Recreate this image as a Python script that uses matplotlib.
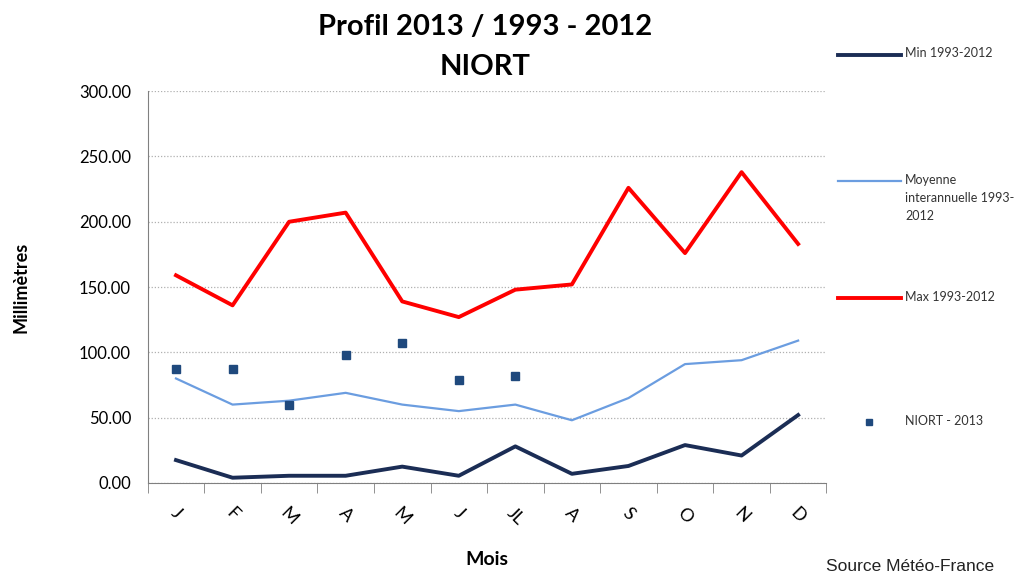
import matplotlib.pyplot as plt
import numpy as np
from matplotlib.lines import Line2D

months = ['J', 'F', 'M', 'A', 'M', 'J', 'JL', 'A', 'S', 'O', 'N', 'D']
min_vals = [17.5, 4, 5.5, 5.5, 12.5, 5.5, 28, 7, 13, 29, 21, 52]
moy_vals = [80, 60, 63, 69, 60, 55, 60, 48, 65, 91, 94, 109]
max_vals = [159, 136, 200, 207, 139, 127, 148, 152, 226, 176, 238, 183]
niort_2013 = [87, 87, 60, 98, 107, 79, 82]

c_min = '#1b2d55'
c_moy = '#6b9de0'
c_max = '#ff0000'
c_pt = '#1f497d'

plt.rcParams['font.family'] = ['Lato', 'DejaVu Sans']

fig = plt.figure(figsize=(10.33, 5.77), dpi=100)
ax = fig.add_axes([0.143, 0.163, 0.657, 0.679])

x = np.arange(len(months))
ax.plot(x, min_vals, color=c_min, lw=2.8, solid_joinstyle='round', zorder=3)
ax.plot(x, moy_vals, color=c_moy, lw=1.6, zorder=3)
ax.plot(x, max_vals, color=c_max, lw=2.8, solid_joinstyle='round', zorder=3)
ax.plot(x[:len(niort_2013)], niort_2013, 's', color=c_pt, ms=6, zorder=4)

ax.set_xlim(-0.5, 11.5)
ax.set_ylim(0, 300)
ax.set_yticks(np.arange(0, 301, 50))
ax.set_yticklabels([f'{v:.2f}' for v in np.arange(0, 301, 50)], fontsize=12)
ax.yaxis.grid(True, color='#b0b0b0', ls=(0, (1, 1.5)), lw=0.9)
ax.set_axisbelow(True)

ax.set_xticks(x)
ax.set_xticklabels(months, rotation=-45, fontsize=13, ha='center')
ax.set_xticks(np.arange(-0.5, 12, 1), minor=True)
ax.tick_params(axis='x', which='major', length=0, pad=16)
ax.tick_params(axis='x', which='minor', length=7, color='#808080')
ax.tick_params(axis='y', length=0, pad=12)

for s in ['top', 'right']:
    ax.spines[s].set_visible(False)
for s in ['left', 'bottom']:
    ax.spines[s].set_color('#808080')

ax.set_ylabel('Millimètres', fontsize=13, fontweight='bold', labelpad=36)
ax.set_xlabel('Mois', fontsize=14, fontweight='bold', labelpad=16)
fig.suptitle('Profil 2013 / 1993 - 2012\nNIORT', x=0.47, y=0.975,
             fontsize=21, fontweight='bold', linespacing=1.65)

# legend at right
leg = [(c_min, 2.8, None, 0.905, 'Min 1993-2012'),
       (c_moy, 1.6, None, 0.686, 'Moyenne\ninterannuelle 1993-\n2012'),
       (c_max, 2.8, None, 0.483, 'Max 1993-2012'),
       (c_pt, 0, 's', 0.268, 'NIORT - 2013')]
for col, lw, mk, yy, lab in leg:
    if mk:
        fig.add_artist(Line2D([0.841], [yy], marker=mk, color=col, ms=5,
                              ls='none', transform=fig.transFigure))
    else:
        fig.add_artist(Line2D([0.811, 0.872], [yy, yy], color=col, lw=lw,
                              transform=fig.transFigure))
    fig.text(0.876, yy + 0.013, lab, fontsize=9, va='top', ha='left',
             linespacing=1.6, color='#333333')

fig.text(0.80, 0.01, 'Source Météo-France', fontsize=12.5,
         family=['Liberation Sans', 'DejaVu Sans'], color='#222222')

fig.savefig('out.png', dpi=100)
